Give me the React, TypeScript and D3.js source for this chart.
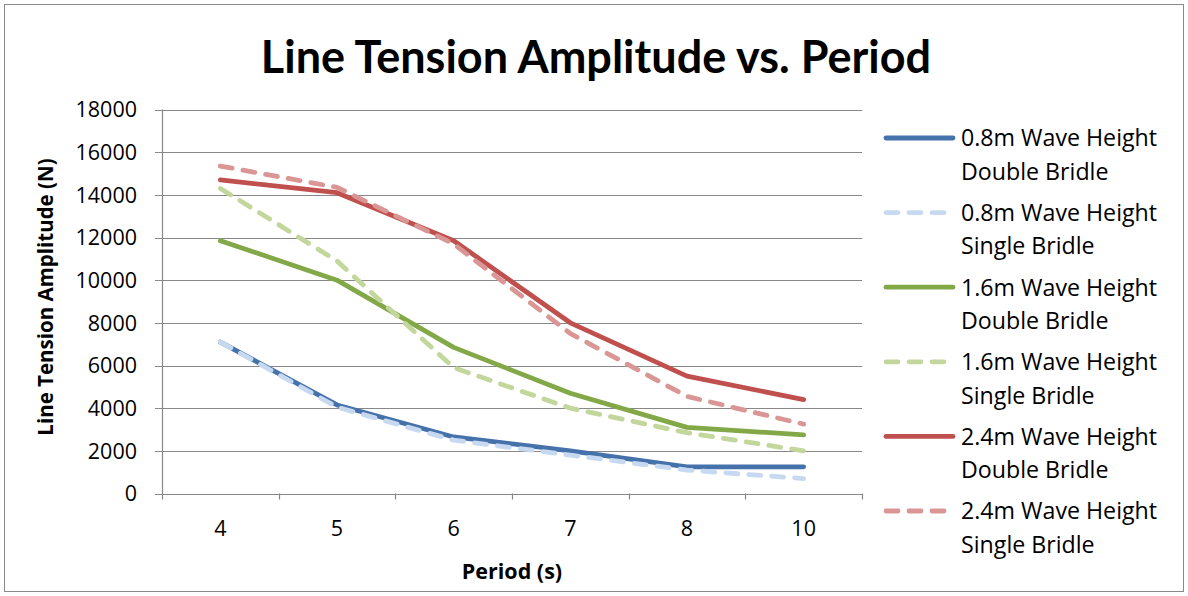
import React from "react";
import * as d3 from "d3";

const periods = ["4", "5", "6", "7", "8", "10"];
const yTicks = [0, 2000, 4000, 6000, 8000, 10000, 12000, 14000, 16000, 18000];

const h08Double = [7100, 4150, 2650, 2000, 1250, 1250];
const h08Single = [7100, 4050, 2500, 1800, 1100, 700];
const h16Double = [11850, 10000, 6850, 4700, 3100, 2750];
const h16Single = [14300, 10900, 5900, 4000, 2850, 2000];
const h24Double = [14700, 14100, 11850, 8000, 5500, 4400];
const h24Single = [15350, 14350, 11700, 7500, 4550, 3250];

const seriesNames = [
  ["0.8m Wave Height", "Double Bridle"],
  ["0.8m Wave Height", "Single Bridle"],
  ["1.6m Wave Height", "Double Bridle"],
  ["1.6m Wave Height", "Single Bridle"],
  ["2.4m Wave Height", "Double Bridle"],
  ["2.4m Wave Height", "Single Bridle"],
];
const seriesValues = [h08Double, h08Single, h16Double, h16Single, h24Double, h24Single];
const seriesColors = ["#4672AB", "#C6D9F1", "#82A848", "#C3D69B", "#C0504D", "#D99694"];
const seriesDashed = [false, true, false, true, false, true];

const W = 1188;
const H = 596;
const plot = { left: 162, right: 862, top: 109.5, bottom: 493.5 };
const titleFont = "Lato, 'Open Sans', sans-serif";
const font = "'Open Sans', Lato, sans-serif";

export default function App() {
  const x = d3.scaleBand<string>().domain(periods).range([plot.left, plot.right]);
  const y = d3.scaleLinear().domain([0, 18000]).range([plot.bottom, plot.top]);
  const cx = (p: string) => (x(p) as number) + x.bandwidth() / 2;
  const line = d3
    .line<number>()
    .x((_, i) => cx(periods[i]))
    .y((d) => y(d));

  return (
    <svg width={W} height={H} style={{ position: "absolute", left: 0, top: 0 }}>
      <rect x={0} y={0} width={W} height={H} fill="#fff" />
      <rect x={4.5} y={4.5} width={1179} height={587} fill="none" stroke="#898989" strokeWidth={1} />
      <text x={596} y={73} textAnchor="middle" fontFamily={titleFont} fontWeight={700} fontSize={45} fill="#000">
        Line Tension Amplitude vs. Period
      </text>
      {yTicks.map((t) => (
        <g key={t}>
          <line
            x1={plot.left - 7}
            x2={plot.right}
            y1={Math.round(y(t)) + 0.5}
            y2={Math.round(y(t)) + 0.5}
            stroke="#888"
            strokeWidth={1.2}
          />
          <text x={137} y={y(t)} dy="0.36em" textAnchor="end" fontFamily={font} fontSize={21.5} fill="#000">
            {t}
          </text>
        </g>
      ))}
      <line x1={plot.left + 0.5} x2={plot.left + 0.5} y1={plot.top} y2={plot.bottom + 6} stroke="#888" strokeWidth={1.2} />
      {periods.map((p) => (
        <g key={p}>
          <line
            x1={Math.round((x(p) as number) + x.bandwidth()) + 0.5}
            x2={Math.round((x(p) as number) + x.bandwidth()) + 0.5}
            y1={plot.bottom}
            y2={plot.bottom + 6}
            stroke="#888"
            strokeWidth={1.2}
          />
          <text x={cx(p)} y={528} dy="0.36em" textAnchor="middle" fontFamily={font} fontSize={21.5} fill="#000">
            {p}
          </text>
        </g>
      ))}
      <text
        transform={`translate(46,297) rotate(-90)`}
        textAnchor="middle"
        dy="0.36em"
        fontFamily={font}
        fontWeight={700}
        fontSize={20.5}
        fill="#000"
      >
        Line Tension Amplitude (N)
      </text>
      <text x={512} y={571} dy="0.36em" textAnchor="middle" fontFamily={font} fontWeight={700} fontSize={21.5} fill="#000">
        Period (s)
      </text>
      {seriesValues.map((vals, i) => (
        <path
          key={i}
          d={line(vals) as string}
          fill="none"
          stroke={seriesColors[i]}
          strokeWidth={4.8}
          strokeLinecap="round"
          strokeLinejoin="round"
          strokeDasharray={seriesDashed[i] ? "12,11" : undefined}
        />
      ))}
      {seriesNames.map((n, i) => {
        const ly = 138 + i * 74.6;
        return (
          <g key={i}>
            <line
              x1={886}
              x2={953}
              y1={ly}
              y2={ly}
              stroke={seriesColors[i]}
              strokeWidth={4.8}
              strokeLinecap="round"
              strokeDasharray={seriesDashed[i] ? "12,11" : undefined}
            />
            <text x={961} y={ly} dy="0.36em" fontFamily={font} fontSize={23.2} fill="#000">
              {n[0]}
            </text>
            <text x={961} y={ly + 33.5} dy="0.36em" fontFamily={font} fontSize={23.2} fill="#000">
              {n[1]}
            </text>
          </g>
        );
      })}
    </svg>
  );
}
